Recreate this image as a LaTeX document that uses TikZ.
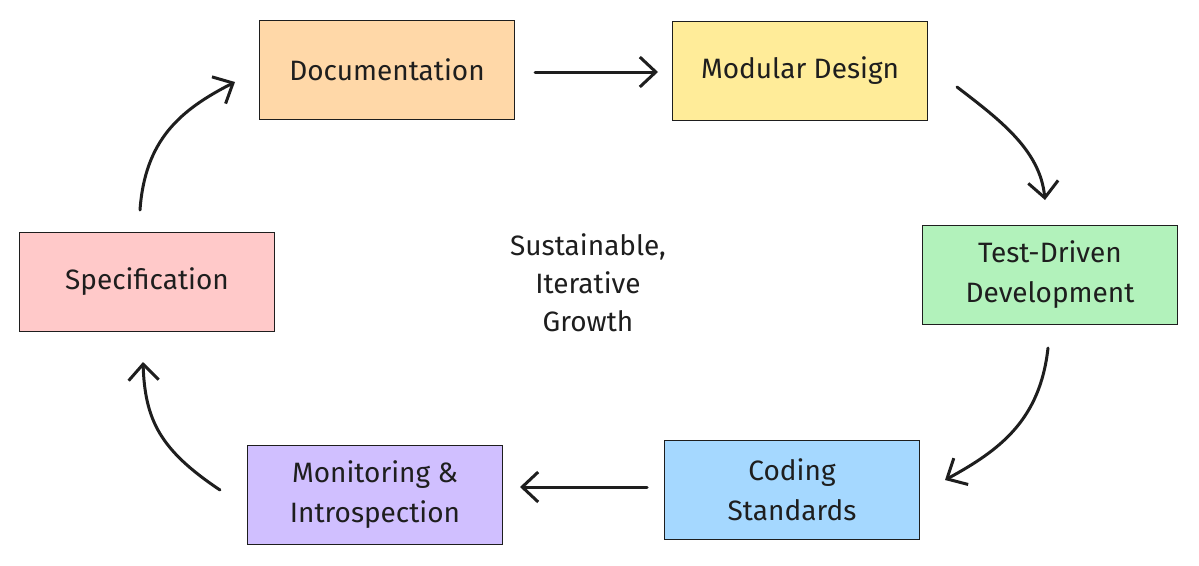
\documentclass[tikz,border=0pt]{standalone}
\usepackage{fontspec}
\setmainfont{Fira Sans}
\usetikzlibrary{arrows.meta}
\definecolor{cOr}{HTML}{FFD8A8}
\definecolor{cYe}{HTML}{FFEC99}
\definecolor{cGr}{HTML}{B2F2BB}
\definecolor{cBl}{HTML}{A5D8FF}
\definecolor{cPu}{HTML}{D0BFFF}
\definecolor{cRe}{HTML}{FFC9C9}
\definecolor{ink}{HTML}{1E1E1E}
\begin{document}
\begin{tikzpicture}[x=1pt,y=-1pt,
  box/.style={draw=ink,line width=1.3pt,minimum width=255pt,minimum height=99pt,align=center,font=\fontsize{28}{40}\selectfont,text=ink},
  arr/.style={draw=ink,line width=3pt,line cap=round,-{Straight Barb[length=16pt,width=30pt,line width=3pt]}}]
\useasboundingbox (0,0) rectangle (1199,565);
\node[box,fill=cOr] (doc) at (387,70) {Documentation};
\node[box,fill=cYe] (mod) at (800,71) {Modular Design};
\node[box,fill=cGr] (tdd) at (1050,275) {Test-Driven\\Development};
\node[box,fill=cBl] (cod) at (792,490) {Coding\\Standards};
\node[box,fill=cPu] (mon) at (375,495) {Monitoring \&\\Introspection};
\node[box,fill=cRe] (spe) at (147,282) {Specification};
\node[align=center,font=\fontsize{28}{38}\selectfont,text=ink] (ctr) at (588,283) {Sustainable,\\Iterative\\Growth};
\coordinate (a1) at (535,72); \coordinate (b1) at (658,72);
\coordinate (a2) at (957,87); \coordinate (b2) at (1045,200);
\coordinate (a3) at (1048,348); \coordinate (b3) at (945,480);
\coordinate (a4) at (647,487); \coordinate (b4) at (520,487);
\coordinate (a5) at (220,490); \coordinate (b5) at (143,362);
\coordinate (a6) at (140,210); \coordinate (b6) at (235,82);
\draw[arr] (a1) -- (b1);
\draw[arr] (a2) .. controls (1000,120) and (1040,150) .. (b2);
\draw[arr] (a3) .. controls (1040,420) and (1000,450) .. (b3);
\draw[arr] (a4) -- (b4);
\draw[arr] (a5) .. controls (160,450) and (145,420) .. (b5);
\draw[arr] (a6) .. controls (145,140) and (180,110) .. (b6);
\end{tikzpicture}
\end{document}
